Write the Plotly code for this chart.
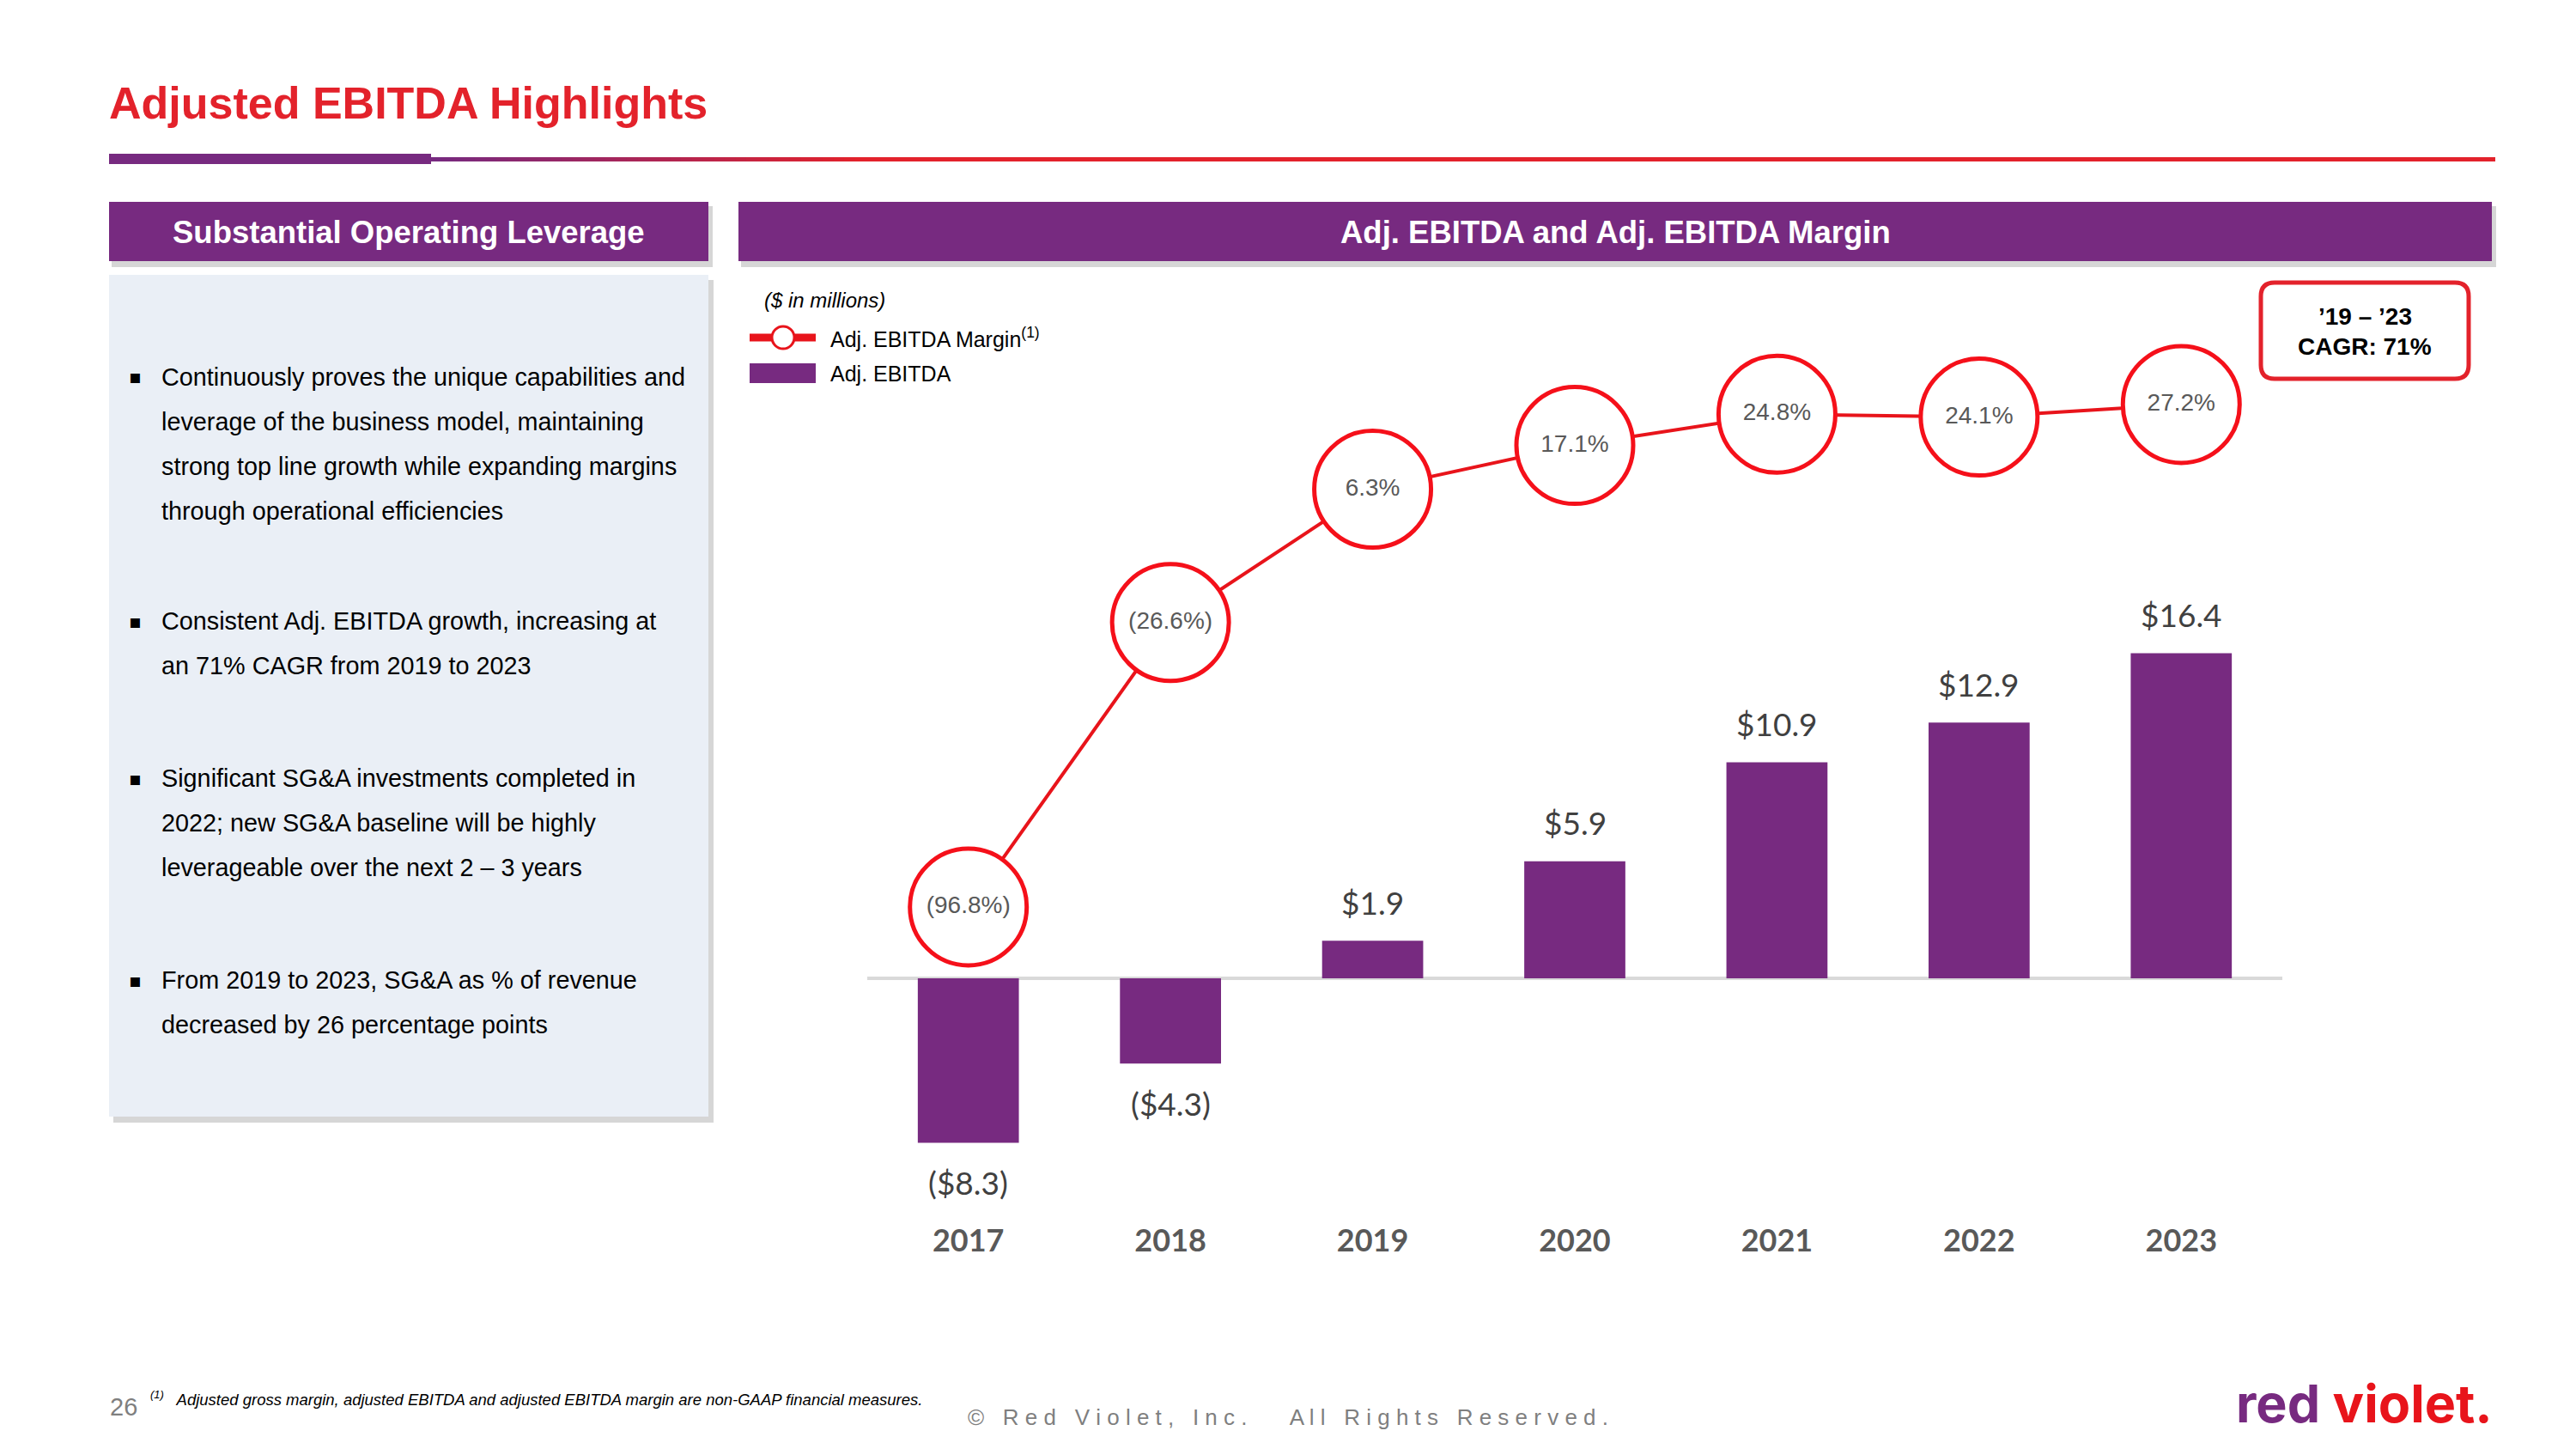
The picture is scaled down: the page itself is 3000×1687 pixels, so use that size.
import plotly.graph_objects as go

# ==========================================
# Data
# ==========================================
YEARS = ['2017', '2018', '2019', '2020', '2021', '2022', '2023']
ADJ_EBITDA = [-8.3, -4.3, 1.9, 5.9, 10.9, 12.9, 16.4]          # $ millions
ADJ_EBITDA_MARGIN = [-96.8, -26.6, 6.3, 17.1, 24.8, 24.1, 27.2]  # %

BULLETS = [
    ['Continuously proves the unique capabilities and',
     'leverage of the business model, maintaining',
     'strong top line growth while expanding margins',
     'through operational efficiencies'],
    ['Consistent Adj. EBITDA growth, increasing at',
     'an 71% CAGR from 2019 to 2023'],
    ['Significant SG&A investments completed in',
     '2022; new SG&A baseline will be highly',
     'leverageable over the next 2 \u2013 3 years'],
    ['From 2019 to 2023, SG&A as % of revenue',
     'decreased by 26 percentage points'],
]

PURPLE = '#772A80'
RED = '#E3222B'
CIRCLE_RED = '#F5101A'
ARIAL = 'Liberation Sans, Arial, sans-serif'
CALIBRI = 'Lato, Calibri, sans-serif'

W, H = 3000, 1687


def px(x):
    return x / W


def py(y):
    return 1 - y / H


def money(v):
    return f'(${abs(v):.1f})' if v < 0 else f'${v:.1f}'


def pct(v):
    return f'({abs(v):.1f}%)' if v < 0 else f'{v:.1f}%'


def rect(x0, y0, x1, y1, color, line=None, lw=0):
    return dict(type='rect', xref='paper', yref='paper', layer='below',
                x0=px(x0), x1=px(x1), y0=py(y1), y1=py(y0),
                fillcolor=color, line=dict(color=line or color, width=lw))


def rounded_rect(x0, y0, x1, y1, r):
    a, b = px(x0), px(x1)
    c, d = py(y0), py(y1)          # c is top, d is bottom
    rx, ry = r / W, r / H
    path = (f'M{a + rx},{c} L{b - rx},{c} Q{b},{c} {b},{c - ry} '
            f'L{b},{d + ry} Q{b},{d} {b - rx},{d} L{a + rx},{d} '
            f'Q{a},{d} {a},{d + ry} L{a},{c - ry} Q{a},{c} {a + rx},{c} Z')
    return path


shapes = []
annotations = []

# ==========================================
# Slide decoration
# ==========================================
annotations.append(dict(text='<b>Adjusted EBITDA Highlights</b>', x=px(117), y=py(112),
                        xref='paper', yref='paper', xanchor='left', yanchor='middle',
                        showarrow=False, font=dict(family=ARIAL, size=52, color=RED)))

# divider: thick purple, then gradient into red
shapes.append(rect(119, 171, 494, 183, PURPLE))
n_seg = 40
g0, g1 = 494, 1000
c0 = (0x77, 0x2A, 0x80)
c1 = (0xE3, 0x22, 0x2B)
for i in range(n_seg):
    t = i / (n_seg - 1)
    col = 'rgb({},{},{})'.format(*[int(c0[k] + (c1[k] - c0[k]) * t) for k in range(3)])
    xa = g0 + (g1 - g0) * i / n_seg
    xb = g0 + (g1 - g0) * (i + 1) / n_seg + 1
    shapes.append(rect(xa, 175, xb, 180, col))
shapes.append(rect(g1, 175, 2898, 180, RED))

# section headers with shadow
for (x0, x1, label) in [(119, 817, 'Substantial Operating Leverage'),
                        (852, 2894, 'Adj. EBITDA and Adj. EBITDA Margin')]:
    shapes.append(rect(x0 + 3, 232, x1 + 5, 303, 'rgba(0,0,0,0.16)'))
    shapes.append(rect(x0, 227, x1, 296, PURPLE))
    annotations.append(dict(text=f'<b>{label}</b>', x=px((x0 + x1) / 2), y=py(262),
                            xref='paper', yref='paper', xanchor='center', yanchor='middle',
                            showarrow=False, font=dict(family=ARIAL, size=36.5, color='white')))

# left text panel
shapes.append(rect(124, 318, 823, 1299, 'rgba(0,0,0,0.16)'))
shapes.append(rect(119, 312, 817, 1292, '#EAEFF6'))
starts = [431, 715, 898, 1133]
for lines, y0 in zip(BULLETS, starts):
    annotations.append(dict(text='\u25aa', x=px(149), y=py(y0), xref='paper', yref='paper',
                            xanchor='center', yanchor='middle', showarrow=False,
                            font=dict(family='DejaVu Sans', size=22, color='black')))
    for k, line in enumerate(lines):
        annotations.append(dict(text=line, x=px(178), y=py(y0 + 52 * k),
                                xref='paper', yref='paper', xanchor='left', yanchor='middle',
                                showarrow=False, font=dict(family=ARIAL, size=28.8, color='black')))

# units + legend
annotations.append(dict(text='<i>($ in millions)</i>', x=px(880), y=py(342),
                        xref='paper', yref='paper', xanchor='left', yanchor='middle',
                        showarrow=False, font=dict(family=ARIAL, size=24, color='black')))
shapes.append(dict(type='line', xref='paper', yref='paper', x0=px(865), x1=px(942),
                   y0=py(385), y1=py(385), line=dict(color='#E8141B', width=9)))
shapes.append(dict(type='circle', xref='paper', yref='paper', x0=px(891), x1=px(917),
                   y0=py(398), y1=py(372), fillcolor='white', line=dict(color='#E8141B', width=3)))
shapes.append(rect(865, 415, 942, 438, PURPLE))
annotations.append(dict(text='Adj. EBITDA Margin<sup>(1)</sup>', x=px(957), y=py(385),
                        xref='paper', yref='paper', xanchor='left', yanchor='middle',
                        showarrow=False, font=dict(family=ARIAL, size=25, color='black')))
annotations.append(dict(text='Adj. EBITDA', x=px(957), y=py(427),
                        xref='paper', yref='paper', xanchor='left', yanchor='middle',
                        showarrow=False, font=dict(family=ARIAL, size=25, color='black')))

# CAGR callout
shapes.append(dict(type='path', xref='paper', yref='paper', path=rounded_rect(2625, 321, 2867, 433, 16),
                   fillcolor='white', line=dict(color=RED, width=5)))
annotations.append(dict(text='<b>\u201919 \u2013 \u201923</b>', x=px(2746), y=py(360),
                        xref='paper', yref='paper', xanchor='center', yanchor='middle',
                        showarrow=False, font=dict(family=ARIAL, size=28, color='black')))
annotations.append(dict(text='<b>CAGR: 71%</b>', x=px(2746), y=py(395),
                        xref='paper', yref='paper', xanchor='center', yanchor='middle',
                        showarrow=False, font=dict(family=ARIAL, size=28, color='black')))

# footer
annotations.append(dict(text='26', x=px(118), y=py(1630), xref='paper', yref='paper',
                        xanchor='left', yanchor='middle', showarrow=False,
                        font=dict(family=ARIAL, size=29, color='#7F7F7F')))
annotations.append(dict(text='<i><sup>(1)</sup>   Adjusted gross margin, adjusted EBITDA and adjusted '
                             'EBITDA margin are non-GAAP financial measures.</i>',
                        x=px(165), y=py(1620), xref='paper', yref='paper',
                        xanchor='left', yanchor='middle', showarrow=False,
                        font=dict(family=ARIAL, size=18.5, color='black')))
copyright_txt = ' '.join('\u00a9 Red Violet, Inc.   All Rights Reserved.')
annotations.append(dict(text=copyright_txt, x=px(1117), y=py(1642), xref='paper', yref='paper',
                        xanchor='left', yanchor='middle', showarrow=False,
                        font=dict(family=ARIAL, size=26, color='#7F7F7F')))
annotations.append(dict(text=f'<b><span style="color:{PURPLE}">red</span> '
                             f'<span style="color:#E8141B">violet.</span></b>',
                        x=px(2594), y=py(1626), xref='paper', yref='paper',
                        xanchor='left', yanchor='middle', showarrow=False,
                        font=dict(family='Inter, sans-serif', size=61)))

# ==========================================
# Chart
# ==========================================
fig = go.Figure()
fig.add_trace(go.Bar(
    x=YEARS, y=ADJ_EBITDA, name='Adj. EBITDA',
    marker=dict(color=PURPLE, line=dict(width=0)),
    hoverinfo='x+y'
))
fig.add_trace(go.Scatter(
    x=YEARS, y=ADJ_EBITDA_MARGIN, yaxis='y2', name='Adj. EBITDA Margin',
    mode='lines+markers+text',
    text=[pct(v) for v in ADJ_EBITDA_MARGIN], textposition='middle center',
    textfont=dict(family=ARIAL, size=28, color='#595959'),
    line=dict(color='#E8141B', width=4),
    marker=dict(symbol='circle', size=136, color='white', line=dict(color=CIRCLE_RED, width=5)),
    cliponaxis=False
))

# value labels: category axis positions by index
for i, v in enumerate(ADJ_EBITDA):
    annotations.append(dict(text=money(v), x=i, y=v, xref='x', yref='y',
                            xanchor='center', yanchor='middle', yshift=45 if v > 0 else -46,
                            showarrow=False, font=dict(family=CALIBRI, size=37, color='#404040')))

fig.update_layout(
    width=W, height=H,
    margin=dict(l=0, r=0, t=0, b=0),
    paper_bgcolor='white', plot_bgcolor='white',
    showlegend=False,
    bargap=0.5,
    shapes=shapes,
    annotations=annotations,
    xaxis=dict(domain=[px(1002), px(2650)], type='category', range=[-0.5, len(YEARS) - 0.5],
               autorange=False, showgrid=False, showline=False,
               zeroline=False, ticks='', ticklabelstandoff=12,
               tickfont=dict(family=CALIBRI, size=36, color='#595959', weight='bold')),
    yaxis=dict(domain=[py(1400), py(420)], range=[-11.655, 30.81], autorange=False, showgrid=False,
               showticklabels=False, ticks='', showline=False,
               zeroline=True, zerolinecolor='#D9D9D9', zerolinewidth=4),
    yaxis2=dict(overlaying='y', range=[-171.4, 36.3], autorange=False, visible=False),
)

fig.write_html('out.html')
